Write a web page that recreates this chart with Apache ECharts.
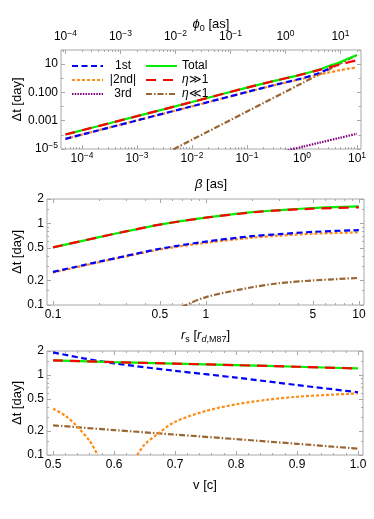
<!DOCTYPE html>
<html>
<head>
<meta charset="utf-8">
<title>delta t panels</title>
<script src="https://cdn.jsdelivr.net/npm/echarts@6/dist/echarts.min.js"></script>
<style>
  html, body { margin: 0; padding: 0; background: #fff; }
  #chart { width: 374px; height: 519px; }
</style>
</head>
<body>
<div id="chart"></div>
<script>
// ---- panel 1: delta t vs beta (log-log) ----
const beta      = [5e-5, 1e-4, 1e-3, 1e-2, 0.1, 0.3, 1, 2, 3, 5, 7, 10];
const p1Total   = [1.05e-4, 2.1e-4, 2.1e-3, 0.021, 0.22, 0.63, 1.9, 4.0, 7.0, 14, 25, 45];
const p1Big     = [1.05e-4, 2.1e-4, 2.1e-3, 0.021, 0.22, 0.63, 1.9, 3.8, 5.7, 9.5, 13.5, 19];
const p1Second  = [5.2e-5, 1.04e-4, 1.04e-3, 0.0104, 0.105, 0.31, 0.9, 1.75, 2.5, 3.8, 4.8, 5.8];
const beta1st   = [5e-5, 1e-4, 1e-3, 1e-2, 0.1, 0.3, 1, 2, 3, 3.5];
const p1First   = [5.2e-5, 1.05e-4, 1.05e-3, 0.0105, 0.108, 0.32, 1.0, 2.3, 4.5, 6.5];
const beta3rd   = [0.5, 1, 2, 5, 10];
const p1Third   = [7.3e-6, 1.4e-5, 2.7e-5, 6.3e-5, 1.2e-4];
const betaSmall = [3e-3, 1e-2, 0.1, 1, 10];
const p1Small   = [4e-6, 4.5e-5, 4.5e-3, 0.45, 45];

// ---- panel 2: delta t vs r_s ----
const rs        = [0.1, 0.2, 0.3, 0.5, 1, 2, 3, 5, 10];
const p2Total   = [0.51, 0.68, 0.80, 0.97, 1.18, 1.38, 1.46, 1.55, 1.62];
const p2Big     = [0.51, 0.68, 0.80, 0.97, 1.18, 1.37, 1.45, 1.52, 1.58];
const p2First   = [0.255, 0.34, 0.40, 0.49, 0.60, 0.70, 0.74, 0.79, 0.83];
const p2Second  = [0.25, 0.335, 0.395, 0.48, 0.58, 0.67, 0.71, 0.75, 0.78];
const rsSmall   = [0.6, 0.7, 1, 2, 3, 5, 10];
const p2Small   = [0.08, 0.095, 0.125, 0.165, 0.185, 0.20, 0.215];

// ---- panel 3: delta t vs v ----
const vel       = [0.5, 0.6, 0.7, 0.8, 0.9, 1.0];
const p3Total   = [1.53, 1.45, 1.39, 1.33, 1.27, 1.21];
const p3Small   = [0.235, 0.205, 0.18, 0.158, 0.138, 0.12];
const vel1st    = [0.5, 0.55, 0.6, 0.7, 0.8, 0.9, 1.0];
const p3First   = [1.92, 1.62, 1.40, 1.13, 0.93, 0.75, 0.61];
const vel2ndL   = [0.5, 0.52, 0.54, 0.56, 0.573];
const p3SecondL = [0.38, 0.31, 0.225, 0.15, 0.1];
const vel2ndR   = [0.638, 0.65, 0.67, 0.7, 0.75, 0.8, 0.85, 0.9, 0.95, 1.0];
const p3SecondR = [0.1, 0.135, 0.18, 0.26, 0.355, 0.43, 0.49, 0.535, 0.565, 0.59];

// tick label values
const betaMajor = [1e-4, 1e-3, 1e-2, 1e-1, 1, 10];
const phiMajor  = [1e-4, 1e-3, 1e-2, 1e-1, 1, 10];
const p1YMajor  = [1e-5, 1e-3, 1e-1, 10];
const p1YMinor  = [1e-4, 1e-2, 1, 100];
const rsMajor   = [0.1, 0.5, 1, 5, 10];
const dtMajor   = [0.1, 0.2, 0.5, 1, 2];
const dtMinor   = [0.15, 0.3, 0.4, 0.6, 0.7, 0.8, 0.9, 1.5];
const velMajor  = [0.5, 0.6, 0.7, 0.8, 0.9, 1.0];

const FONT = 'Liberation Sans';
const FRAME = '#a8a8a8';
const C = { first: '#0000ff', second: '#ff8a14', third: '#800080',
            total: '#00ee00', big: '#ff0000', small: '#996633' };

const TICK_RICH = {
  b: { fontSize: 12, fontFamily: FONT, color: '#000', lineHeight: 16 },
  s: { fontSize: 8.5, fontFamily: FONT, color: '#000', lineHeight: 10, verticalAlign: 'top' }
};
const NAME_RICH = {
  i: { fontSize: 13, fontFamily: FONT, fontStyle: 'italic', color: '#000', lineHeight: 17 },
  sub: { fontSize: 9, fontFamily: FONT, color: '#000', lineHeight: 11, verticalAlign: 'bottom' },
  subi: { fontSize: 9, fontFamily: FONT, fontStyle: 'italic', color: '#000', lineHeight: 11, verticalAlign: 'bottom' }
};

function pow10Label(v) {
  const e = Math.round(Math.log10(v));
  return '{b|10}{s|' + (e < 0 ? '\u2212' + (-e) : e) + '}';
}
function p1YLabel(v) {
  const e = Math.round(Math.log10(v));
  if (e === -5) return pow10Label(v);
  if (e === -3) return '0.001';
  if (e === -1) return '0.100';
  return '10';
}
function plainLabel(v) { return String(+v.toPrecision(3)); }

function logMinors(d0, d1, skip) {
  const out = [];
  for (let d = d0; d <= d1; d++) {
    for (let m = 2; m <= 9; m++) {
      const t = m * Math.pow(10, d);
      if (!skip || skip.every(s => Math.abs(s - t) > 1e-9 * t)) out.push(t);
    }
  }
  return out;
}
const inRange = (vals, min, max) => vals.filter(t => t >= min && t <= max);

const xAxes = [], yAxes = [];
function ax(list, o) {
  list.push({
    type: o.type, gridIndex: o.grid, position: o.pos, min: o.min, max: o.max,
    axisLine: { show: false },
    splitLine: { show: false },
    axisTick: { show: true, inside: true, length: o.len,
                customValues: inRange(o.ticks, o.min, o.max),
                lineStyle: { color: FRAME, width: 1 } },
    axisLabel: o.labels ? {
      show: true, customValues: inRange(o.labels, o.min, o.max), formatter: o.fmt,
      margin: o.margin, color: '#000', fontFamily: FONT, fontSize: 12, rich: TICK_RICH
    } : { show: false },
    name: o.name || '', nameLocation: 'middle', nameGap: o.gap || 0, nameMoveOverlap: false,
    nameTextStyle: { color: '#000', fontFamily: FONT, fontSize: 13, rich: NAME_RICH },
    silent: true
  });
  return list.length - 1;
}

// panel 1 axes
const p1 = { xmin: 4.15e-5, xmax: 11.8, ymin: 1e-5, ymax: 100 };
const x1 = ax(xAxes, { type: 'log', grid: 0, pos: 'bottom', min: p1.xmin, max: p1.xmax, ticks: betaMajor, len: 4,
  labels: betaMajor, fmt: pow10Label, margin: 2, name: '{i|\u03b2} [as]', gap: 27 });
ax(xAxes, { type: 'log', grid: 0, pos: 'bottom', min: p1.xmin, max: p1.xmax, ticks: logMinors(-5, 1), len: 2 });
ax(xAxes, { type: 'log', grid: 0, pos: 'top', min: 2 * p1.xmin, max: 2 * p1.xmax, ticks: phiMajor, len: 4,
  labels: phiMajor, fmt: pow10Label, margin: 5, name: '{i|\u03d5}{sub|0} [as]', gap: 17 });
ax(xAxes, { type: 'log', grid: 0, pos: 'top', min: 2 * p1.xmin, max: 2 * p1.xmax, ticks: logMinors(-5, 1), len: 2 });
const y1 = ax(yAxes, { type: 'log', grid: 0, pos: 'left', min: p1.ymin, max: p1.ymax, ticks: p1YMajor, len: 4,
  labels: p1YMajor, fmt: p1YLabel, margin: 3, name: '\u0394t [day]', gap: 37 });
ax(yAxes, { type: 'log', grid: 0, pos: 'left', min: p1.ymin, max: p1.ymax, ticks: p1YMinor, len: 2.5 });
ax(yAxes, { type: 'log', grid: 0, pos: 'right', min: p1.ymin, max: p1.ymax, ticks: p1YMajor, len: 4 });
ax(yAxes, { type: 'log', grid: 0, pos: 'right', min: p1.ymin, max: p1.ymax, ticks: p1YMinor, len: 2.5 });

// panel 2 axes
const p2 = { xmin: 0.0914, xmax: 10.8, ymin: 0.1, ymax: 2 };
const rsMinor = logMinors(-2, 1, rsMajor);
const x2 = ax(xAxes, { type: 'log', grid: 1, pos: 'bottom', min: p2.xmin, max: p2.xmax, ticks: rsMajor, len: 4,
  labels: rsMajor, fmt: plainLabel, margin: 4,
  name: '{i|r}{sub|s} [{i|r}{subi|d}{sub|,M87}]', gap: 22 });
ax(xAxes, { type: 'log', grid: 1, pos: 'bottom', min: p2.xmin, max: p2.xmax, ticks: rsMinor, len: 2 });
ax(xAxes, { type: 'log', grid: 1, pos: 'top', min: p2.xmin, max: p2.xmax, ticks: rsMajor, len: 4 });
ax(xAxes, { type: 'log', grid: 1, pos: 'top', min: p2.xmin, max: p2.xmax, ticks: rsMinor, len: 2 });
const y2 = ax(yAxes, { type: 'log', grid: 1, pos: 'left', min: p2.ymin, max: p2.ymax, ticks: dtMajor, len: 4,
  labels: dtMajor, fmt: plainLabel, margin: 3, name: '\u0394t [day]', gap: 23 });
ax(yAxes, { type: 'log', grid: 1, pos: 'left', min: p2.ymin, max: p2.ymax, ticks: dtMinor, len: 2 });
ax(yAxes, { type: 'log', grid: 1, pos: 'right', min: p2.ymin, max: p2.ymax, ticks: dtMajor, len: 4 });
ax(yAxes, { type: 'log', grid: 1, pos: 'right', min: p2.ymin, max: p2.ymax, ticks: dtMinor, len: 2 });

// panel 3 axes
const p3 = { xmin: 0.490, xmax: 1.0082, ymin: 0.1, ymax: 2 };
const velMinor = [];
for (let k = 0; k <= 26; k++) { const t = +(0.48 + 0.02 * k).toFixed(2); if (Math.round(t * 100) % 10) velMinor.push(t); }
const x3 = ax(xAxes, { type: 'value', grid: 2, pos: 'bottom', min: p3.xmin, max: p3.xmax, ticks: velMajor, len: 4,
  labels: velMajor, fmt: v => v.toFixed(1), margin: 4, name: 'v [c]', gap: 24 });
ax(xAxes, { type: 'value', grid: 2, pos: 'bottom', min: p3.xmin, max: p3.xmax, ticks: velMinor, len: 2 });
ax(xAxes, { type: 'value', grid: 2, pos: 'top', min: p3.xmin, max: p3.xmax, ticks: velMajor, len: 4 });
ax(xAxes, { type: 'value', grid: 2, pos: 'top', min: p3.xmin, max: p3.xmax, ticks: velMinor, len: 2 });
const y3 = ax(yAxes, { type: 'log', grid: 2, pos: 'left', min: p3.ymin, max: p3.ymax, ticks: dtMajor, len: 4,
  labels: dtMajor, fmt: plainLabel, margin: 3, name: '\u0394t [day]', gap: 23 });
ax(yAxes, { type: 'log', grid: 2, pos: 'left', min: p3.ymin, max: p3.ymax, ticks: dtMinor, len: 2 });
ax(yAxes, { type: 'log', grid: 2, pos: 'right', min: p3.ymin, max: p3.ymax, ticks: dtMajor, len: 4 });
ax(yAxes, { type: 'log', grid: 2, pos: 'right', min: p3.ymin, max: p3.ymax, ticks: dtMinor, len: 2 });

const zip = (xs, ys) => xs.map((x, i) => (x === null ? '-' : [x, ys[i]]));
const series = [];
function line(name, xs, ys, color, dash, xi, yi, z) {
  series.push({
    type: 'line', name: name, data: zip(xs, ys), xAxisIndex: xi, yAxisIndex: yi,
    symbol: 'none', smooth: 0.3, clip: true, z: z, silent: true, animation: false,
    lineStyle: { color: color, width: 2.2, type: dash }, itemStyle: { color: color }
  });
}
const DASH = { first: [6, 3.5], second: [3, 2], third: [1.5, 1.2], big: [10, 7], small: [6, 2, 1.5, 2] };

// panel 1 series
line('\u03b7\u226a1', betaSmall, p1Small, C.small, DASH.small, x1, y1, 2);
line('3rd', beta3rd, p1Third, C.third, DASH.third, x1, y1, 3);
line('|2nd|', beta, p1Second, C.second, DASH.second, x1, y1, 4);
line('1st', beta1st, p1First, C.first, DASH.first, x1, y1, 5);
line('Total', beta, p1Total, C.total, 'solid', x1, y1, 6);
line('\u03b7\u226b1', beta, p1Big, C.big, DASH.big, x1, y1, 7);
// panel 2 series
line('\u03b7\u226a1', rsSmall, p2Small, C.small, DASH.small, x2, y2, 2);
line('|2nd|', rs, p2Second, C.second, DASH.second, x2, y2, 4);
line('1st', rs, p2First, C.first, DASH.first, x2, y2, 5);
line('Total', rs, p2Total, C.total, 'solid', x2, y2, 6);
line('\u03b7\u226b1', rs, p2Big, C.big, DASH.big, x2, y2, 7);
// panel 3 series (null breaks |2nd| at its zero crossing)
line('\u03b7\u226a1', vel, p3Small, C.small, DASH.small, x3, y3, 2);
line('|2nd|', vel2ndL.concat([null], vel2ndR), p3SecondL.concat([null], p3SecondR), C.second, DASH.second, x3, y3, 4);
line('1st', vel1st, p3First, C.first, DASH.first, x3, y3, 5);
line('Total', vel, p3Total, C.total, 'solid', x3, y3, 6);
line('\u03b7\u226b1', vel, p3Total, C.big, DASH.big, x3, y3, 7);

const legendBase = {
  orient: 'vertical', top: 55, itemWidth: 31, itemHeight: 12, itemGap: 2,
  selectedMode: false,
  itemStyle: { opacity: 0, borderWidth: 0 },
  textStyle: { fontFamily: FONT, fontSize: 12, color: '#000',
    rich: { c: { width: 30, align: 'center', fontFamily: FONT, fontSize: 12 },
            i: { fontFamily: FONT, fontSize: 12, fontStyle: 'italic' },
            n: { fontFamily: FONT, fontSize: 12 } } }
};

const chart = echarts.init(document.getElementById('chart'));
chart.setOption({
  backgroundColor: '#fff',
  animation: false,
  grid: [
    { left: 61, right: 13, top: 50, height: 99, show: true, borderColor: FRAME, borderWidth: 1, backgroundColor: 'transparent' },
    { left: 47, right: 10, top: 199, height: 106, show: true, borderColor: FRAME, borderWidth: 1, backgroundColor: 'transparent' },
    { left: 47, right: 11, top: 351, height: 104, show: true, borderColor: FRAME, borderWidth: 1, backgroundColor: 'transparent' }
  ],
  xAxis: xAxes,
  yAxis: yAxes,
  legend: [
    Object.assign({}, legendBase, { left: 66, data: ['1st', '|2nd|', '3rd'],
      formatter: n => '{c|' + n + '}' }),
    Object.assign({}, legendBase, { left: 140, data: ['Total', '\u03b7\u226b1', '\u03b7\u226a1'],
      formatter: n => n.charAt(0) === '\u03b7' ? '{i|\u03b7}{n|' + n.slice(1) + '}' : n })
  ],
  series: series
});
</script>
</body>
</html>
